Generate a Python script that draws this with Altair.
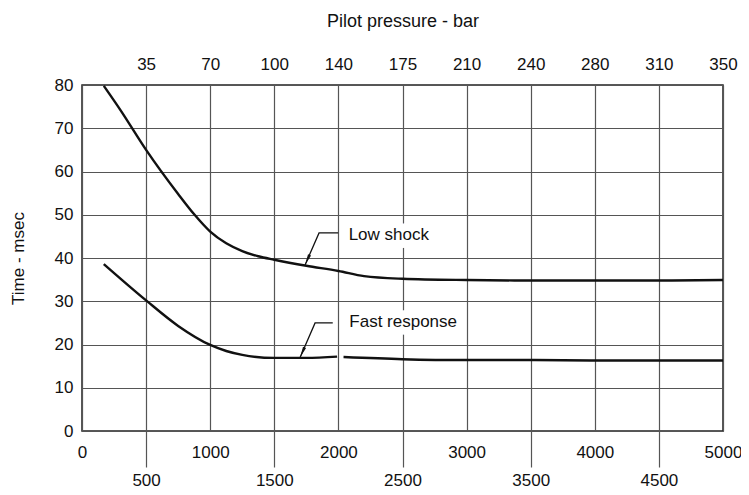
import altair as alt
import pandas as pd

# ---- data ----
psi_ticks = [0, 500, 1000, 1500, 2000, 2500, 3000, 3500, 4000, 4500, 5000]
bar_ticks = [500, 1000, 1500, 2000, 2500, 3000, 3500, 4000, 4500, 5000]
bar_labels = ["35", "70", "100", "140", "175", "210", "240", "280", "310", "350"]
y_ticks = [0, 10, 20, 30, 40, 50, 60, 70, 80]

low_x = [170, 300, 500, 750, 875, 1000, 1125, 1250, 1375, 1500, 1750, 2000, 2200, 2500, 3000, 3500, 4000, 4500, 5000]
low_y = [79.8, 74.2, 65.0, 54.8, 50.1, 46.1, 43.4, 41.6, 40.4, 39.6, 38.2, 37.0, 35.8, 35.2, 34.9, 34.8, 34.8, 34.8, 34.9]

fast1_x = [170, 500, 750, 1000, 1125, 1250, 1500, 1750, 1990]
fast1_y = [38.6, 30.2, 24.3, 19.9, 18.5, 17.6, 16.9, 16.9, 17.2]
fast2_x = [2040, 2500, 3000, 3500, 4000, 4500, 5000]
fast2_y = [17.1, 16.6, 16.4, 16.4, 16.3, 16.3, 16.3]

ann_text = ["Low shock", "Fast response"]
ann_tx = [2080, 2085]
ann_ty = [45.3, 25.1]
low_leader_x = [1998, 1849, 1740]
low_leader_y = [45.8, 45.8, 38.4]
fast_leader_x = [1956, 1818, 1701]
fast_leader_y = [25.0, 25.0, 17.0]

# ---- tables ----
rows = []
for x, y in zip(low_x, low_y):
    rows.append({"x": x, "y": y, "seg": "low"})
for x, y in zip(fast1_x, fast1_y):
    rows.append({"x": x, "y": y, "seg": "fast1"})
for x, y in zip(fast2_x, fast2_y):
    rows.append({"x": x, "y": y, "seg": "fast2"})
curves = pd.DataFrame(rows)

lrows = []
for i, (x, y) in enumerate(zip(low_leader_x, low_leader_y)):
    lrows.append({"x": x, "y": y, "grp": "low", "o": i})
for i, (x, y) in enumerate(zip(fast_leader_x, fast_leader_y)):
    lrows.append({"x": x, "y": y, "grp": "fast", "o": i})
leaders = pd.DataFrame(lrows)

tips = pd.DataFrame({"x": [low_leader_x[-1], fast_leader_x[-1]],
                     "y": [low_leader_y[-1], fast_leader_y[-1]]})
labels = pd.DataFrame({"x": ann_tx, "y": ann_ty, "t": ann_text})

FONT = "Liberation Sans"
INK = "#111111"
GRID = "#555555"

x_scale = alt.Scale(domain=[0, 5000], nice=False, zero=False)
y_scale = alt.Scale(domain=[0, 80], nice=False)

bottom_axis = alt.Axis(
    orient="bottom", values=psi_ticks, format="d", title=None,
    grid=True, gridColor=GRID, gridWidth=1.2, gridOpacity=1,
    domain=False, ticks=True, tickSize=36, tickWidth=1.2,
    tickColor={"condition": {"test": "datum.value % 1000 === 0", "value": "transparent"}, "value": GRID},
    labelPadding=-23, labelBaseline="top", labelLineHeight=28,
    labelExpr="datum.value % 1000 ? ['', datum.label] : datum.label",
    labelOverlap=False, labelFlush=False,
    labelFont=FONT, labelFontSize=17, labelColor=INK,
)
left_axis = alt.Axis(
    orient="left", values=y_ticks, title="Time - msec",
    grid=True, gridColor=GRID, gridWidth=1.2, gridOpacity=1,
    domain=False, ticks=False, labelPadding=9,
    labelFont=FONT, labelFontSize=17, labelColor=INK,
    titleFont=FONT, titleFontSize=17, titleFontWeight="normal", titleColor=INK,
    titlePadding=27,
)
top_label_expr = "[" + ",".join("'" + b + "'" for b in bar_labels) + "][round(datum.value / 500) - 1]"
top_axis = alt.Axis(
    orient="top", values=bar_ticks, title="Pilot pressure - bar",
    grid=False, domain=False, ticks=False, labelPadding=12,
    labelExpr=top_label_expr, labelOverlap=False, labelFlush=False,
    labelFont=FONT, labelFontSize=17, labelColor=INK,
    titleFont=FONT, titleFontSize=18, titleFontWeight="normal", titleColor=INK,
    titlePadding=25,
)

lines = alt.Chart(curves).mark_line(color=INK, strokeWidth=2.4, interpolate="monotone").encode(
    x=alt.X("x:Q", scale=x_scale, axis=bottom_axis),
    y=alt.Y("y:Q", scale=y_scale, axis=left_axis),
    detail="seg:N",
)

leader = alt.Chart(leaders).mark_line(color=INK, strokeWidth=1.3).encode(
    x=alt.X("x:Q", scale=x_scale, axis=top_axis),
    y=alt.Y("y:Q", scale=y_scale, axis=None),
    detail="grp:N",
    order="o:Q",
)

heads = alt.Chart(tips).mark_point(
    shape="M0,0L0.3,2L-0.3,2Z", filled=True, size=121, color=INK, opacity=1, angle=204, strokeWidth=0
).encode(
    x=alt.X("x:Q", scale=x_scale, axis=None),
    y=alt.Y("y:Q", scale=y_scale, axis=None),
)

halo = alt.Chart(labels).mark_text(
    align="left", baseline="middle", font=FONT, fontSize=17,
    fill="white", stroke="white", strokeWidth=16, strokeJoin="round",
).encode(
    x=alt.X("x:Q", scale=x_scale, axis=None),
    y=alt.Y("y:Q", scale=y_scale, axis=None),
    text="t:N",
)
texts = alt.Chart(labels).mark_text(
    align="left", baseline="middle", font=FONT, fontSize=17, color=INK,
).encode(
    x=alt.X("x:Q", scale=x_scale, axis=None),
    y=alt.Y("y:Q", scale=y_scale, axis=None),
    text="t:N",
)

chart = alt.layer(lines, leader, heads, halo, texts).properties(
    width=641, height=346,
    autosize=alt.AutoSizeParams(type="none"),
    padding={"left": 74, "top": 77, "right": 18, "bottom": 58},
    background="white",
).resolve_axis(x="independent", y="independent").configure_view(
    stroke="#222222", strokeWidth=1.5
)

chart.save("out.html", embed_options={"renderer": "svg", "actions": False})
